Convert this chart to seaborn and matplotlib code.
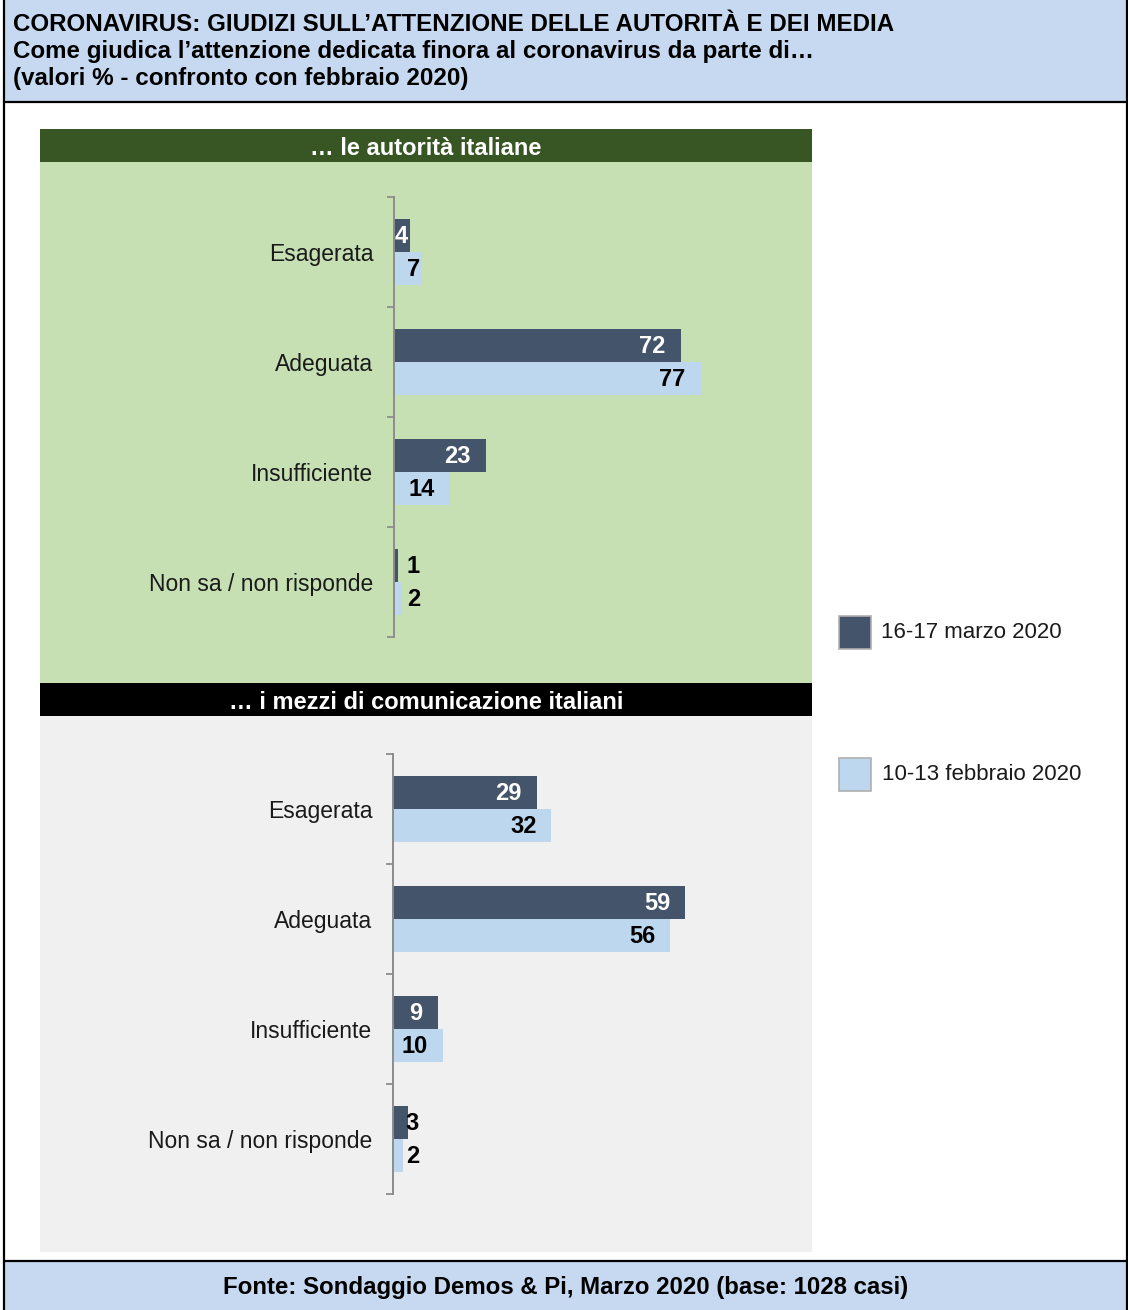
import numpy as np
import pandas as pd
import matplotlib
matplotlib.use("Agg")
import matplotlib.pyplot as plt
from matplotlib.patches import Rectangle
from matplotlib.lines import Line2D
import seaborn as sns

# ---------------- data ----------------
categories = ["Esagerata", "Adeguata", "Insufficiente", "Non sa / non risponde"]
series = ["16-17 marzo 2020", "10-13 febbraio 2020"]
autorita_marzo = [4, 72, 23, 1]
autorita_febbraio = [7, 77, 14, 2]
media_marzo = [29, 59, 9, 3]
media_febbraio = [32, 56, 10, 2]

title_lines = [
    "CORONAVIRUS: GIUDIZI SULL\u2019ATTENZIONE DELLE AUTORIT\u00c0 E DEI MEDIA",
    "Come giudica l\u2019attenzione dedicata finora al coronavirus da parte di\u2026",
    "(valori % - confronto con febbraio 2020)",
]
panel_titles = ["\u2026 le autorit\u00e0 italiane", "\u2026 i mezzi di comunicazione italiani"]
source_text = "Fonte: Sondaggio Demos & Pi, Marzo 2020 (base: 1028 casi)"

# ---------------- style ----------------
DARK = "#44546a"
LIGHT = "#bdd7ee"
GREEN_BG = "#c6e0b4"
GREEN_HDR = "#375623"
GREY_BG = "#f0f0f0"
BLUE_HDR = "#c6d9f0"

W, H = 1128, 1310
sns.set_theme(style="white")
plt.rcParams["font.family"] = ["Liberation Sans", "DejaVu Sans"]

fig = plt.figure(figsize=(W / 100, H / 100), dpi=100)
fig.patch.set_facecolor("white")


def rect(x0, y0, x1, y1, **kw):
    r = Rectangle((x0 / W, 1 - y1 / H), (x1 - x0) / W, (y1 - y0) / H,
                  transform=fig.transFigure, **kw)
    fig.add_artist(r)
    return r


def fline(x0, y0, x1, y1, **kw):
    fig.add_artist(Line2D([x0 / W, x1 / W], [1 - y0 / H, 1 - y1 / H],
                          transform=fig.transFigure, **kw))


def ftext(x, y, s, **kw):
    fig.text(x / W, 1 - y / H, s, **kw)


# header / footer / frame
rect(4, 0, 1127, 102, facecolor=BLUE_HDR, edgecolor="none", zorder=-5)
rect(4, 1261, 1127, 1310, facecolor=BLUE_HDR, edgecolor="none", zorder=-5)
fline(4, 0, 4, 1310, color="black", linewidth=1.6, zorder=20)
fline(1127, 0, 1127, 1310, color="black", linewidth=1.6, zorder=20)
fline(4, 102, 1127, 102, color="black", linewidth=1.6, zorder=20)
fline(4, 1261, 1127, 1261, color="black", linewidth=1.6, zorder=20)

# panel backgrounds
rect(40, 129, 812, 162, facecolor=GREEN_HDR, edgecolor="none", zorder=-5)
rect(40, 162, 812, 683, facecolor=GREEN_BG, edgecolor="none", zorder=-5)
rect(40, 683, 812, 716, facecolor="black", edgecolor="none", zorder=-5)
rect(40, 716, 812, 1252, facecolor=GREY_BG, edgecolor="none", zorder=-5)

# texts
for s, yb in zip(title_lines, [31, 58, 85]):
    ftext(13, yb, s, fontsize=17.4, fontweight="bold", color="black", va="baseline", ha="left")
ftext(426, 155, panel_titles[0], fontsize=17, fontweight="bold", color="white", ha="center", va="baseline")
ftext(426, 709, panel_titles[1], fontsize=17, fontweight="bold", color="white", ha="center", va="baseline")
ftext(566, 1294, source_text, fontsize=17.3, fontweight="bold", color="black", ha="center", va="baseline")

LABEL_FS = 17


def make_panel(left_px, top_px, bottom_px, right_px, xmax, marzo, febbraio):
    ax = fig.add_axes([left_px / W, 1 - bottom_px / H,
                       (right_px - left_px) / W, (bottom_px - top_px) / H])
    ax.set_facecolor("none")
    df = pd.DataFrame({
        "cat": categories * 2,
        "serie": [series[0]] * len(categories) + [series[1]] * len(categories),
        "val": list(marzo) + list(febbraio),
    })
    sns.barplot(data=df, y="cat", x="val", hue="serie", order=categories,
                hue_order=series, palette={series[0]: DARK, series[1]: LIGHT},
                orient="h", width=0.6, saturation=1, linewidth=0,
                errorbar=None, legend=False, ax=ax)
    n = len(categories)
    ax.set_xlim(0, xmax)
    ax.set_ylim(n - 0.5, -0.5)
    ax.set_xlabel("")
    ax.set_ylabel("")
    ax.set_xticks([])
    ax.set_yticks(np.arange(n + 1) - 0.5, labels=[""] * (n + 1))
    ax.set_yticks(np.arange(n), labels=categories, minor=True)
    ax.tick_params(axis="y", which="major", left=True, length=5, width=1.3,
                   color="#8c8c8c", direction="out")
    ax.tick_params(axis="y", which="minor", left=True, length=0, pad=15,
                   labelsize=16.5, labelcolor="#1a1a1a")
    for sp in ["top", "right", "bottom"]:
        ax.spines[sp].set_visible(False)
    ax.spines["left"].set_color("#8c8c8c")
    ax.spines["left"].set_linewidth(1.4)

    ppu = (right_px - left_px) / xmax
    for k, cont in enumerate(ax.containers):
        for bar in cont:
            v = bar.get_width()
            yc = bar.get_y() + bar.get_height() / 2
            txt = f"{v:.0f}"
            end_px = v * ppu
            lw = len(txt) * 0.556 * LABEL_FS * 100 / 72
            normal_right = end_px - 15
            if normal_right >= 26:
                right = normal_right
            elif end_px >= lw + 2:
                right = end_px - 2
            else:
                right = 26
            color = "white" if (k == 0 and right <= end_px) else "black"
            ax.annotate(txt, xy=(0, yc), xytext=(right, -1), textcoords="offset pixels",
                        ha="right", va="center", fontsize=LABEL_FS,
                        fontweight="bold", color=color, annotation_clip=False)
    return ax


make_panel(394, 197, 637, 812, 105.0, autorita_marzo, autorita_febbraio)
make_panel(393, 754, 1194, 812, 84.6, media_marzo, media_febbraio)

# legend
for (s, c, yc, xt) in [(series[0], DARK, 632, 881), (series[1], LIGHT, 775, 882)]:
    rect(839, yc - 16.5, 871, yc + 16.5, facecolor=c, edgecolor="#b0b0b0", linewidth=1.2, zorder=5)
    ftext(xt, yc, s, fontsize=16, color="#1a1a1a", ha="left", va="center")

fig.savefig("out.png", dpi=100, facecolor="white")
